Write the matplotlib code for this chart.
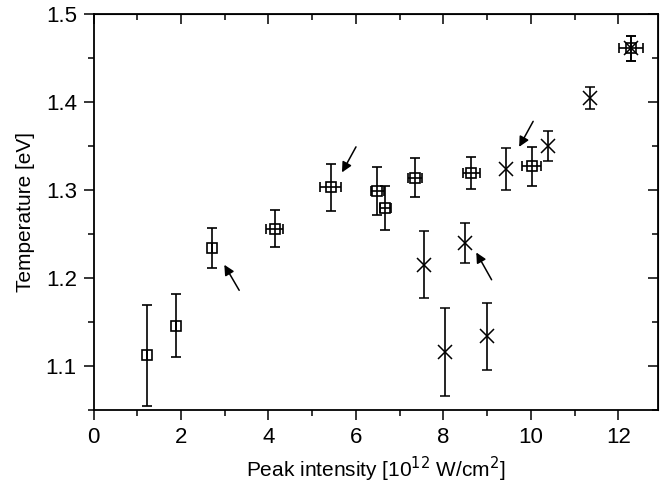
import matplotlib.pyplot as plt
from matplotlib.ticker import MultipleLocator

plt.rcParams['font.family'] = ['Liberation Sans', 'DejaVu Sans']

# squares: intensity, temperature, errors
sq_x = [1.22, 1.89, 2.71, 4.14, 5.42, 6.49, 6.67, 7.35, 8.64, 10.02, 12.28]
sq_y = [1.112, 1.146, 1.234, 1.256, 1.303, 1.299, 1.279, 1.314, 1.319, 1.327, 1.461]
sq_yerr = [0.057, 0.036, 0.023, 0.021, 0.027, 0.027, 0.025, 0.022, 0.018, 0.022, 0.014]
sq_xerr = [0.0, 0.0, 0.0, 0.19, 0.24, 0.15, 0.12, 0.15, 0.2, 0.22, 0.27]

# crosses
cr_x = [7.56, 8.03, 8.5, 8.99, 9.44, 10.4, 11.35, 12.28]
cr_y = [1.215, 1.116, 1.24, 1.134, 1.324, 1.350, 1.404, 1.461]
cr_yerr = [0.038, 0.05, 0.023, 0.038, 0.024, 0.017, 0.0125, 0.014]

# arrows: (head_x, head_y, tail_x, tail_y)
arrows = [(2.99, 1.215, 3.33, 1.186),
          (5.68, 1.320, 6.00, 1.349),
          (8.75, 1.229, 9.10, 1.198),
          (9.73, 1.349, 10.05, 1.378)]

fig = plt.figure(figsize=(6.6, 4.91), dpi=100)
ax = fig.add_axes([0.1417, 0.165, 0.855, 0.8065])

ax.errorbar(cr_x, cr_y, yerr=cr_yerr, fmt='x', color='black', ms=9.5, mew=1.1,
            elinewidth=1.2, capsize=3.5, capthick=1.3)
ax.errorbar(sq_x, sq_y, yerr=sq_yerr, xerr=sq_xerr, fmt='s', color='black',
            mfc='none', ms=7.5, mew=1.2, elinewidth=1.2, capsize=3.5, capthick=1.3)

for hx, hy, tx, ty in arrows:
    ax.annotate('', xy=(hx, hy), xytext=(tx, ty),
                arrowprops=dict(arrowstyle='-|>', color='black', lw=1.1,
                                mutation_scale=15, shrinkA=0, shrinkB=0))

ax.set_xlim(0, 12.9)
ax.set_ylim(1.05, 1.5)
ax.xaxis.set_major_locator(MultipleLocator(2))
ax.xaxis.set_minor_locator(MultipleLocator(1))
ax.yaxis.set_major_locator(MultipleLocator(0.1))
ax.yaxis.set_minor_locator(MultipleLocator(0.05))

ax.tick_params(which='both', direction='out', width=1.1, labelsize=16,
               top=False, right=False, pad=5)
ax.tick_params(which='major', length=7)
ax.tick_params(which='minor', length=4)

# mirror ticks pointing inward on top and right
sec_x = ax.secondary_xaxis('top')
sec_x.xaxis.set_major_locator(MultipleLocator(2))
sec_x.xaxis.set_minor_locator(MultipleLocator(1))
sec_x.tick_params(which='both', direction='in', labeltop=False, width=1.1)
sec_x.tick_params(which='major', length=7)
sec_x.tick_params(which='minor', length=4)
sec_y = ax.secondary_yaxis('right')
sec_y.yaxis.set_major_locator(MultipleLocator(0.1))
sec_y.yaxis.set_minor_locator(MultipleLocator(0.05))
sec_y.tick_params(which='both', direction='in', labelright=False, width=1.1)
sec_y.tick_params(which='major', length=7)
sec_y.tick_params(which='minor', length=4)

for spine in ax.spines.values():
    spine.set_linewidth(1.3)

ax.set_xlabel('Peak intensity [10$^{12}$ W/cm$^2$]', fontsize=15, labelpad=5)
ax.set_ylabel('Temperature [eV]', fontsize=15, labelpad=8)

fig.savefig('out.png', dpi=100)
